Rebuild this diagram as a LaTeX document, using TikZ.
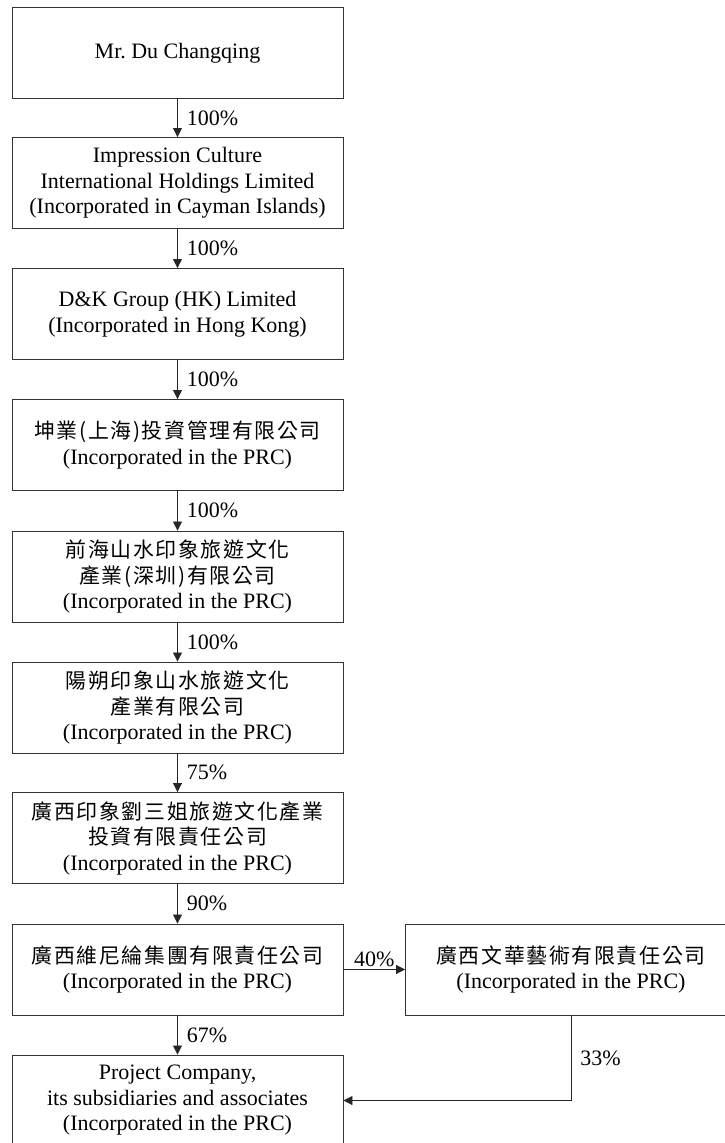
\documentclass[tikz,border=0pt]{standalone}
\usepackage{fontspec}
\setmainfont{Liberation Serif}
\newfontfamily\cjk[Scale=0.95,LetterSpace=8]{Noto Sans CJK TC}
\usetikzlibrary{arrows.meta}
\tikzset{
  box/.style = {draw=black!80, line width=0.9pt, minimum width=331pt,
                minimum height=91pt, align=center, inner sep=0pt,
                font=\fontsize{22}{25.5}\selectfont},
  own/.style = {draw=black!85, line width=0.8pt,
                -{Triangle[width=9pt,length=9pt]}},
  pct/.style = {font=\fontsize{22}{25.5}\selectfont, inner sep=2pt}
}

\begin{document}
\begin{tikzpicture}[x=1pt, y=-1pt]
	\def \cx{177.5}
	\useasboundingbox (0,0) rectangle (725,1143);
	\clip (0,0) rectangle (725,1143);
	
	% Companies
	\node[box] (du) at (\cx,53) {Mr.\ Du Changqing};
	\node[box] (icih) at (\cx,183) {Impression Culture\\International Holdings Limited\\(Incorporated in Cayman Islands)};
	\node[box] (dk) at (\cx,314) {D\&K Group (HK) Limited\\(Incorporated in Hong Kong)};
	\node[box] (kunye) at (\cx,445) {{\cjk 坤業(上海)投資管理有限公司}\\(Incorporated in the PRC)};
	\node[box] (qianhai) at (\cx,576.5) {{\cjk 前海山水印象旅遊文化}\\{\cjk 產業(深圳)有限公司}\\(Incorporated in the PRC)};
	\node[box] (yangshuo) at (\cx,707.5) {{\cjk 陽朔印象山水旅遊文化}\\{\cjk 產業有限公司}\\(Incorporated in the PRC)};
	\node[box] (liusanjie) at (\cx,838) {{\cjk 廣西印象劉三姐旅遊文化產業}\\{\cjk 投資有限責任公司}\\(Incorporated in the PRC)};
	\node[box] (weinilun) at (\cx,969.5) {{\cjk 廣西維尼綸集團有限責任公司}\\(Incorporated in the PRC)};
	\node[box] (wenhua) at (571,969.5) {{\cjk 廣西文華藝術有限責任公司}\\(Incorporated in the PRC)};
	\node[box] (project) at (\cx,1100.5) {Project Company,\\its subsidiaries and associates\\(Incorporated in the PRC)};
	
	% Shareholdings
	\draw[own] (du) -- node[pct, right=7pt] {100\%} (icih);
	\draw[own] (icih) -- node[pct, right=7pt] {100\%} (dk);
	\draw[own] (dk) -- node[pct, right=7pt] {100\%} (kunye);
	\draw[own] (kunye) -- node[pct, right=7pt] {100\%} (qianhai);
	\draw[own] (qianhai) -- node[pct, right=7pt] {100\%} (yangshuo);
	\draw[own] (yangshuo) -- node[pct, right=7pt] {75\%} (liusanjie);
	\draw[own] (liusanjie) -- node[pct, right=7pt] {90\%} (weinilun);
	\draw[own] (weinilun) -- node[pct, above=0pt] {40\%} (wenhua);
	\draw[own] (weinilun) -- node[pct, right=7pt] {67\%} (project);
	\draw[own] (wenhua.south) |- node[pct, pos=0.25, right=7pt] {33\%} (project.east);
	
\end{tikzpicture}
\end{document}
